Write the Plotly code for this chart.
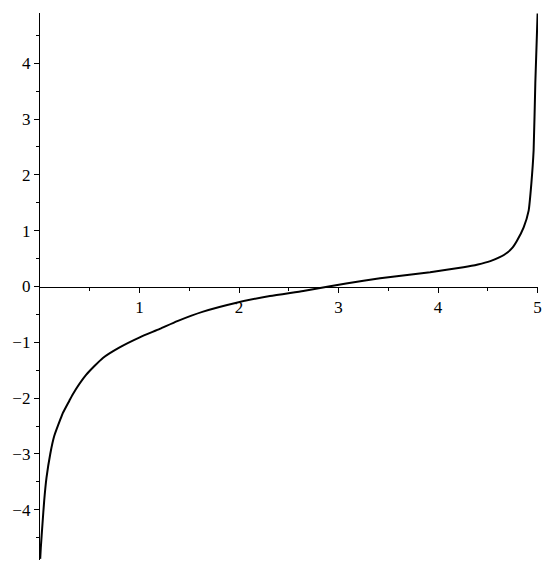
import plotly.graph_objects as go

# curve points
x_vals = [0.002, 0.008, 0.025, 0.042, 0.065, 0.103, 0.143, 0.209, 0.229, 0.294,
          0.330, 0.465, 0.632, 0.800, 1.002, 1.203, 1.38, 1.639, 1.975, 2.31,
          2.645, 2.90, 3.25, 3.585, 3.92, 4.255, 4.40, 4.525, 4.62, 4.69, 4.75, 4.79,
          4.86, 4.91, 4.937, 4.96, 4.977, 5.0]
y_vals = [-4.88, -4.68, -4.25, -3.84, -3.43, -3.00, -2.68, -2.36, -2.27, -2.05,
          -1.93, -1.58, -1.28, -1.09, -0.91, -0.76, -0.62, -0.45, -0.29, -0.17,
          -0.08, 0.0, 0.105, 0.185, 0.256, 0.345, 0.395, 0.455, 0.525, 0.60, 0.70, 0.81,
          1.06, 1.36, 1.84, 2.44, 3.64, 4.89]

x_ticks = [1, 2, 3, 4, 5]
x_minor = [0.5, 1.5, 2.5, 3.5, 4.5]
y_ticks = [-4, -3, -2, -1, 0, 1, 2, 3, 4]
y_minor = [-4.5, -3.5, -2.5, -1.5, -0.5, 0.5, 1.5, 2.5, 3.5, 4.5]

fig = go.Figure()
fig.add_trace(go.Scatter(x=x_vals, y=y_vals, mode="lines",
                         line=dict(color="black", width=2, shape="spline", smoothing=0.5),
                         showlegend=False))

font = dict(family="'Liberation Serif', 'Times New Roman', Times, 'DejaVu Serif', serif",
            size=17, color="black")

fig.update_layout(
    width=550, height=565,
    margin=dict(l=40, r=12, t=13, b=5, autoexpand=False),
    paper_bgcolor="white", plot_bgcolor="white",
    font=font,
    xaxis=dict(range=[0, 5.004], anchor="free", position=0.5, automargin=False,
               showline=True, linecolor="black", linewidth=1.3,
               showgrid=False, zeroline=False, ticklabeloverflow="allow",
               tickmode="array", tickvals=x_ticks, ticktext=[str(v) for v in x_ticks],
               ticks="outside", ticklen=5, tickwidth=1, tickcolor="black",
               minor=dict(tickmode="array", tickvals=x_minor, ticks="outside",
                          ticklen=3, tickwidth=1, tickcolor="black"),
               tickfont=font),
    yaxis=dict(range=[-4.9, 4.9], automargin=False,
               showline=True, linecolor="black", linewidth=1.3,
               showgrid=False, zeroline=False,
               tickmode="array", tickvals=y_ticks,
               ticktext=[("\u2212" + str(-v)) if v < 0 else str(v) for v in y_ticks],
               ticks="outside", ticklen=5, tickwidth=1, tickcolor="black",
               minor=dict(tickmode="array", tickvals=y_minor, ticks="outside",
                          ticklen=3, tickwidth=1, tickcolor="black"),
               tickfont=font),
)

fig.write_html("out.html",
               post_script="document.body.style.margin='0';document.body.style.padding='0';",
               config={"displayModeBar": False})
